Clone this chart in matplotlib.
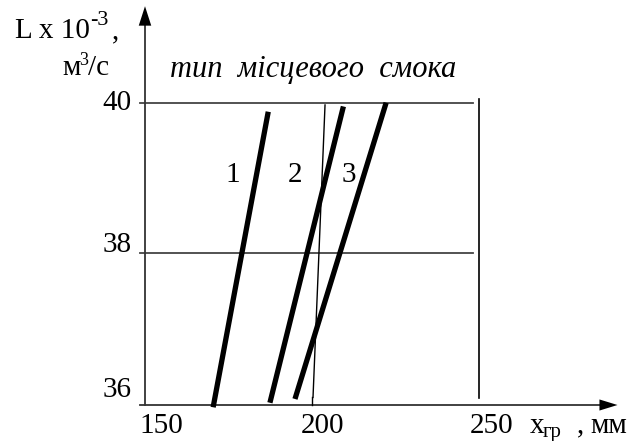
import matplotlib.pyplot as plt

plt.rcParams['font.family'] = ['Liberation Serif', 'DejaVu Serif']

# air flow vs. boundary distance for three curves
x_bottom = [170.4, 187.4, 194.9]
y_bottom = [35.95, 36.01, 36.06]
x_top = [186.9, 209.4, 222.2]
y_top = [39.88, 39.95, 40.0]
curve_names = ['1', '2', '3']
label_x = [176.3, 194.9, 211.1]
label_y = 38.95

# thin reference line
ref_x = [200.3, 203.9]
ref_y = [36.08, 39.97]

x_ticks = [150, 200, 250]
y_ticks = [36, 38, 40]

fig = plt.figure(figsize=(6.29, 4.41), dpi=100)
ax = fig.add_axes([145 / 629, 1 - 403.5 / 441, 334 / 629, 300.8 / 441])
ax.set_xlim(150, 250)
ax.set_ylim(36, 40)
ax.axis('off')

fs = 21

# grid lines at 38 and 40
for y in [38, 40]:
    ax.plot([148.5, 248.2], [y, y], color='#444444', lw=1.3, clip_on=False)
ax.plot([250, 250], [36.07, 40.05], color='black', lw=1.2, clip_on=False)

# axes with arrows
ax.plot([150, 150], [35.98, 41.1], color='#333333', lw=1.3, clip_on=False)
ax.plot([148.5, 287], [35.98, 35.98], color='#333333', lw=1.3, clip_on=False)
ax.annotate('', xy=(150, 41.32), xytext=(150, 41.0),
            arrowprops=dict(arrowstyle='-|>,head_width=0.45,head_length=1.4',
                            color='black', lw=0), annotation_clip=False)
ax.annotate('', xy=(292.3, 35.98), xytext=(286.5, 35.98),
            arrowprops=dict(arrowstyle='-|>,head_width=0.4,head_length=1.3',
                            color='black', lw=0), annotation_clip=False)

ax.plot([200, 200], [35.98, 36.08], color='black', lw=1.0, clip_on=False)

# thin reference line
ax.plot(ref_x, ref_y, color='black', lw=1.0, clip_on=False)

# thick curves
for i in range(3):
    ax.plot([x_bottom[i], x_top[i]], [y_bottom[i], y_top[i]],
            color='black', lw=3.8, solid_capstyle='butt', clip_on=False)
    ax.text(label_x[i], label_y, curve_names[i], fontsize=fs,
            ha='center', va='baseline')

# tick labels, nudged off their lines
y_shift = [0.09, 0.01, -0.10]
for y, dy in zip(y_ticks, y_shift):
    ax.text(146.1, y + dy, str(y), fontsize=fs, ha='right', va='baseline')
x_shift = [4.8, 3.0, 3.9]
for x, dx in zip(x_ticks, x_shift):
    ax.text(x + dx, 35.61, str(x), fontsize=fs, ha='center', va='baseline')

# x axis name with subscript
ax.text(265.3, 35.61, 'x', fontsize=fs, ha='left', va='baseline')
ax.text(269.2, 35.55, 'гр', fontsize=15, ha='left', va='baseline')
ax.text(279.4, 35.61, ',', fontsize=fs, ha='left', va='baseline')
ax.text(294.3, 35.61, 'мм', fontsize=fs, ha='right', va='baseline')

ax.text(157.5, 40.44, 'тип  місцевого  смока', fontsize=22, style='italic',
        ha='left', va='center')

# y axis name with superscripts
fig.text(15 / 629, 1 - 38 / 441, 'L x 10', fontsize=fs, ha='left', va='baseline')
fig.text(90 / 629, 1 - 25 / 441, '-3', fontsize=16, ha='left', va='baseline')
fig.text(112 / 629, 1 - 38 / 441, ',', fontsize=fs, ha='left', va='baseline')
fig.text(62 / 629, 1 - 75 / 441, 'м', fontsize=fs, ha='left', va='baseline')
fig.text(79 / 629, 1 - 65 / 441, '3', fontsize=13, ha='left', va='baseline')
fig.text(88 / 629, 1 - 75 / 441, '/с', fontsize=fs, ha='left', va='baseline')

fig.savefig('out.png', dpi=100)
